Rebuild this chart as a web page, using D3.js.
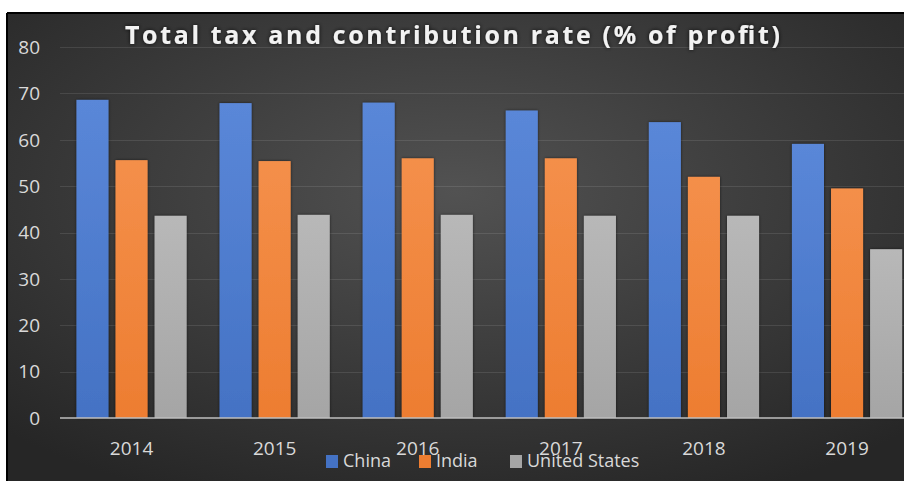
<!DOCTYPE html>
<html>
<head>
<meta charset="utf-8">
<script src="https://cdn.jsdelivr.net/npm/d3@7"></script>
<style>
  html, body { margin: 0; padding: 0; background: #fff; }
  svg { display: block; }
</style>
</head>
<body>
<div id="chart"></div>
<script>
// data
var years = ["2014", "2015", "2016", "2017", "2018", "2019"];
var seriesNames = ["China", "India", "United States"];
var china = [68.6, 67.9, 68.0, 66.3, 63.8, 59.1];
var india = [55.6, 55.4, 56.0, 56.0, 52.0, 49.5];
var unitedStates = [43.6, 43.8, 43.8, 43.6, 43.6, 36.4];
var yTicks = [0, 10, 20, 30, 40, 50, 60, 70, 80];

var colors = {"China": "#4472c4", "India": "#ed7d31", "United States": "#a5a5a5"};
var tops = {"China": "#5a87d8", "India": "#f48f4a", "United States": "#b8b8b8"};

var values = {"China": china, "India": india, "United States": unitedStates};
var rows = years.map(function(y, i) {
  return {year: y, vals: seriesNames.map(function(s) { return {name: s, value: values[s][i]}; })};
});

var W = 904, H = 481;
var svg = d3.select("#chart").append("svg")
    .attr("width", W)
    .attr("height", H);

var defs = svg.append("defs");
var bg = defs.append("radialGradient")
    .attr("id", "bg")
    .attr("cx", "50%").attr("cy", "38%").attr("r", "72%");
bg.append("stop").attr("offset", "0%").attr("stop-color", "#525252");
bg.append("stop").attr("offset", "100%").attr("stop-color", "#262626");

seriesNames.forEach(function(s, i) {
  var g = defs.append("linearGradient")
      .attr("id", "bar" + i)
      .attr("x1", 0).attr("y1", 0).attr("x2", 0).attr("y2", 1);
  g.append("stop").attr("offset", "0%").attr("stop-color", tops[s]);
  g.append("stop").attr("offset", "100%").attr("stop-color", colors[s]);
});

var shadow = defs.append("filter").attr("id", "shadow")
    .attr("x", "-20%").attr("y", "-5%").attr("width", "140%").attr("height", "110%");
shadow.append("feDropShadow")
    .attr("dx", 0).attr("dy", 0).attr("stdDeviation", 1.5)
    .attr("flood-color", "#000").attr("flood-opacity", 0.6);

var glow = defs.append("filter").attr("id", "glow")
    .attr("x", "-5%").attr("y", "-30%").attr("width", "110%").attr("height", "160%");
glow.append("feDropShadow")
    .attr("dx", 0).attr("dy", 0).attr("stdDeviation", 2)
    .attr("flood-color", "#000").attr("flood-opacity", 0.8);

// chart frame
svg.append("rect")
    .attr("x", 8).attr("y", 14)
    .attr("width", W - 8).attr("height", H - 14)
    .attr("fill", "url(#bg)");
svg.append("line")
    .attr("x1", 7).attr("x2", W).attr("y1", 13).attr("y2", 13)
    .attr("stroke", "#000").attr("stroke-width", 2);
svg.append("line")
    .attr("x1", 7).attr("x2", 7).attr("y1", 13).attr("y2", H)
    .attr("stroke", "#000").attr("stroke-width", 2);

// scales
var y = d3.scaleLinear().domain([0, 80]).range([418, 47]);
var x0 = d3.scaleBand().domain(years).range([60, 918.6])
    .paddingInner(0.23).paddingOuter(0.115);
var x1 = d3.scaleBand().domain(seriesNames).range([0, x0.bandwidth()])
    .paddingInner(0.18);

// gridlines
svg.append("g").selectAll("line")
  .data(yTicks.filter(function(d) { return d > 0; }))
  .enter().append("line")
    .attr("x1", 60).attr("x2", W)
    .attr("y1", function(d) { return Math.round(y(d)) + 0.5; })
    .attr("y2", function(d) { return Math.round(y(d)) + 0.5; })
    .attr("stroke", "#ffffff").attr("stroke-opacity", 0.1).attr("stroke-width", 1);

// y labels
svg.append("g").selectAll("text")
  .data(yTicks)
  .enter().append("text")
    .attr("x", 40)
    .attr("y", function(d) { return y(d); })
    .attr("dy", "0.36em")
    .attr("text-anchor", "end")
    .attr("font-family", "Open Sans, sans-serif")
    .attr("font-size", 19)
    .attr("fill", "#d9d9d9")
    .text(function(d) { return d; });

// bars
var groups = svg.append("g").selectAll("g")
  .data(rows)
  .enter().append("g")
    .attr("transform", function(d) { return "translate(" + x0(d.year) + ",0)"; });

groups.selectAll("rect")
  .data(function(d) { return d.vals; })
  .enter().append("rect")
    .attr("x", function(d) { return x1(d.name); })
    .attr("y", function(d) { return y(d.value); })
    .attr("width", x1.bandwidth())
    .attr("height", function(d) { return y(0) - y(d.value); })
    .attr("fill", function(d) { return "url(#bar" + seriesNames.indexOf(d.name) + ")"; })
    .attr("filter", "url(#shadow)");

// baseline
svg.append("line")
    .attr("x1", 60).attr("x2", W)
    .attr("y1", y(0)).attr("y2", y(0))
    .attr("stroke", "#bfbfbf").attr("stroke-width", 1.5);

// x labels
svg.append("g").selectAll("text")
  .data(years)
  .enter().append("text")
    .attr("x", function(d) { return x0(d) + x0.bandwidth() / 2; })
    .attr("y", 455)
    .attr("text-anchor", "middle")
    .attr("font-family", "Open Sans, sans-serif")
    .attr("font-size", 19)
    .attr("fill", "#d9d9d9")
    .text(function(d) { return d; });

// legend (in the original it sits over the 2016 / 2017 labels)
var legendX = [326, 419, 510];
var legend = svg.append("g").selectAll("g")
  .data(seriesNames)
  .enter().append("g")
    .attr("transform", function(d, i) { return "translate(" + legendX[i] + ",455)"; });
legend.append("rect")
    .attr("width", 12).attr("height", 13)
    .attr("fill", function(d) { return colors[d]; });
legend.append("text")
    .attr("x", 17).attr("y", 12)
    .attr("font-family", "Open Sans, sans-serif")
    .attr("font-size", 18)
    .attr("fill", "#d9d9d9")
    .text(function(d) { return d; });

// title
svg.append("text")
    .attr("x", 125).attr("y", 44)
    .attr("font-family", "Open Sans, sans-serif")
    .attr("font-weight", "bold")
    .attr("font-size", 25)
    .attr("fill", "#f2f2f2")
    .attr("textLength", 655)
    .attr("lengthAdjust", "spacing")
    .attr("filter", "url(#glow)")
    .text("Total tax and contribution rate (% of profit)");
</script>
</body>
</html>
